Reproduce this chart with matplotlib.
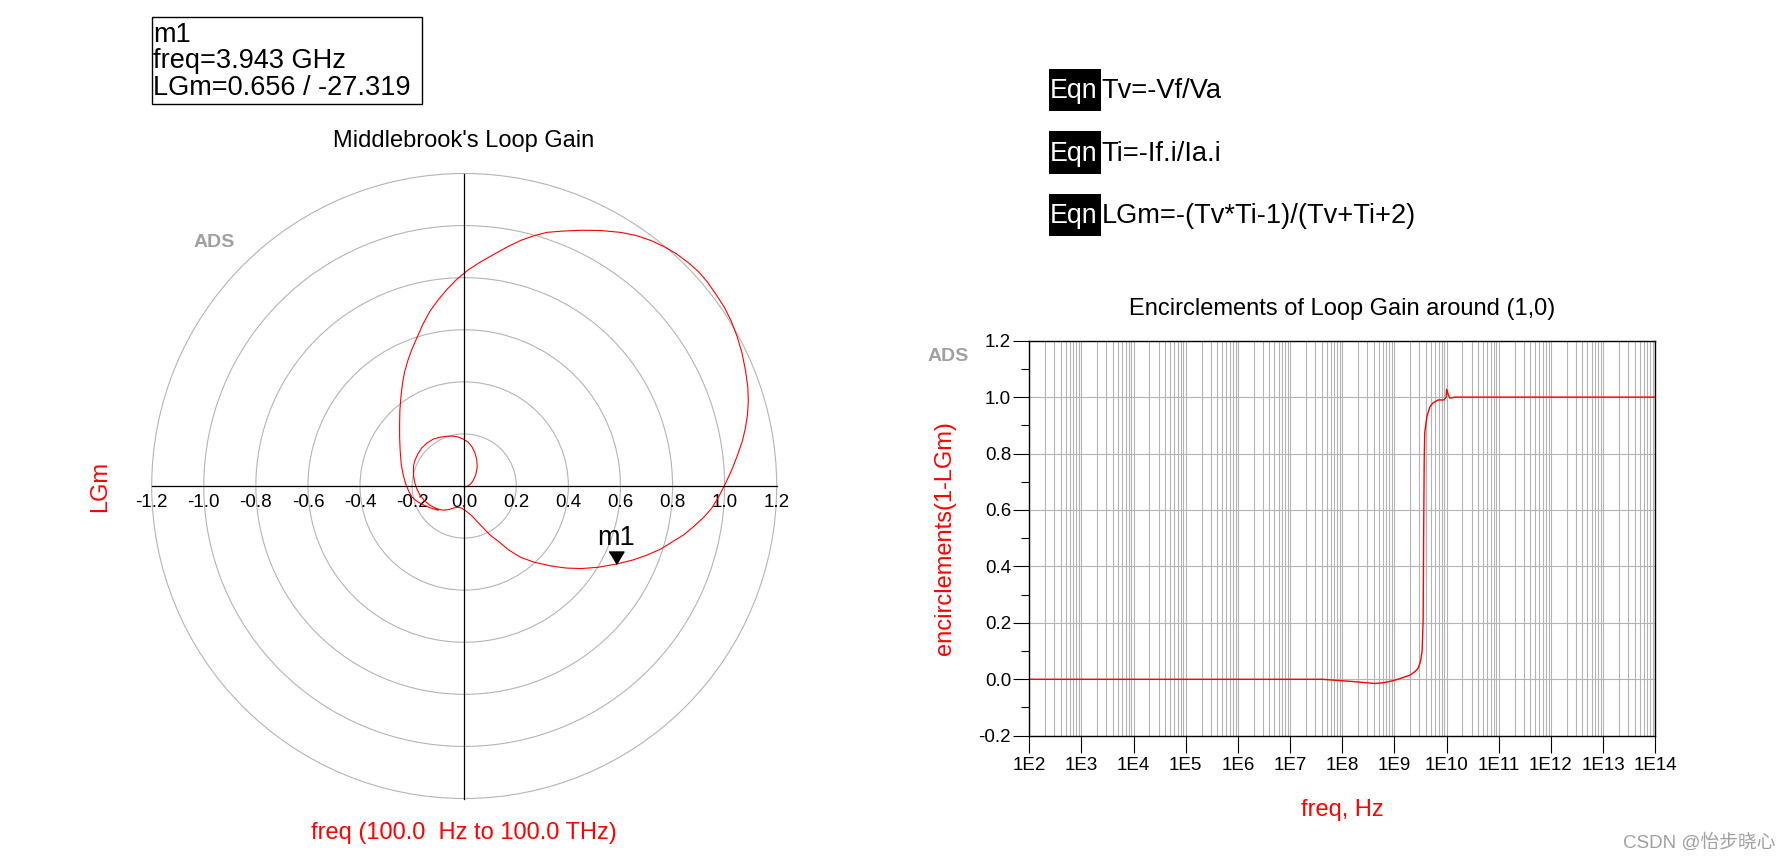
import matplotlib
matplotlib.use('Agg')
import matplotlib.pyplot as plt
import numpy as np
from matplotlib.patches import Circle, Rectangle
from matplotlib.ticker import FixedLocator, FuncFormatter, MultipleLocator, LogLocator, NullFormatter

W, H = 1788, 861

lgm_re = [0.000, 0.012, 0.025, 0.035, 0.045, 0.050, 0.048, 0.041, 0.030, 0.016,
          -0.003, -0.023, -0.045, -0.067, -0.094, -0.119, -0.143, -0.163, -0.178, -0.189,
          -0.194, -0.195, -0.194, -0.189, -0.181, -0.170, -0.152, -0.131, -0.106, -0.080,
          -0.057, -0.035, -0.020, -0.010, 0.000, 0.008,
          0.030, 0.050, 0.075, 0.100, 0.133, 0.170, 0.217, 0.270, 0.333, 0.390,
          0.450, 0.515, 0.583, 0.645, 0.700, 0.755, 0.800, 0.845, 0.883, 0.920,
          0.950, 0.978, 1.003, 1.028, 1.050, 1.068, 1.080, 1.088, 1.091, 1.089,
          1.080, 1.066, 1.048, 1.025, 0.998, 0.966, 0.935, 0.900, 0.860, 0.816,
          0.768, 0.716, 0.660, 0.600, 0.525, 0.450, 0.380, 0.317, 0.265, 0.217,
          0.165, 0.117, 0.065, 0.017, -0.027, -0.067, -0.102, -0.133, -0.160, -0.183,
          -0.202, -0.217, -0.229, -0.237, -0.243, -0.247, -0.248, -0.248, -0.246, -0.242,
          -0.235, -0.225, -0.213, -0.200, -0.180, -0.158, -0.130, -0.100]
lgm_im = [-0.005, -0.001, 0.008, 0.022, 0.045, 0.073, 0.102, 0.128, 0.150, 0.168,
          0.180, 0.188, 0.192, 0.191, 0.187, 0.180, 0.165, 0.146, 0.123, 0.099,
          0.080, 0.061, 0.035, 0.010, -0.013, -0.035, -0.057, -0.074, -0.087, -0.093,
          -0.090, -0.083, -0.082, -0.085, -0.091, -0.097,
          -0.115, -0.137, -0.163, -0.189, -0.214, -0.245, -0.274, -0.293, -0.307, -0.315,
          -0.317, -0.312, -0.300, -0.285, -0.266, -0.242, -0.214, -0.186, -0.154, -0.120,
          -0.086, -0.040, 0.009, 0.063, 0.120, 0.172, 0.223, 0.275, 0.326, 0.380,
          0.445, 0.514, 0.574, 0.634, 0.688, 0.737, 0.782, 0.823, 0.858, 0.891,
          0.919, 0.943, 0.962, 0.974, 0.981, 0.982, 0.979, 0.974, 0.960, 0.943,
          0.918, 0.891, 0.862, 0.831, 0.795, 0.754, 0.712, 0.669, 0.618, 0.566,
          0.522, 0.480, 0.437, 0.394, 0.342, 0.291, 0.240, 0.189, 0.137, 0.086,
          0.045, 0.009, -0.020, -0.043, -0.060, -0.072, -0.084, -0.093]

# marker m1
m1_freq = '3.943 GHz'
m1_mag = 0.656
m1_ang = -27.319

polar_ticks = [-1.2, -1.0, -0.8, -0.6, -0.4, -0.2, 0.0, 0.2, 0.4, 0.6, 0.8, 1.0, 1.2]
polar_rings = [0.2, 0.4, 0.6, 0.8, 1.0, 1.2]

# encirclements(1-LGm) vs freq
enc_freq = [1e2, 4e7, 8e7, 1.6e8, 3.2e8, 4.2e8, 6.3e8, 8.9e8, 1.26e9, 2.0e9,
            2.5e9, 2.82e9, 3.16e9, 3.39e9, 3.55e9, 3.63e9, 3.72e9, 3.8e9, 4.17e9, 4.79e9,
            5.5e9, 6.9e9, 8.9e9, 9.77e9, 1.0e10, 1.07e10, 1.15e10, 1.26e10, 1.41e10, 1e14]
enc_val = [0.0, 0.0, -0.004, -0.008, -0.013, -0.015, -0.012, -0.006, 0.002, 0.015,
           0.028, 0.038, 0.063, 0.10, 0.215, 0.53, 0.78, 0.873, 0.93, 0.966,
           0.98, 0.99, 0.99, 1.0, 1.028, 1.01, 0.997, 0.997, 1.0, 1.0]
decades = [2, 3, 4, 5, 6, 7, 8, 9, 10, 11, 12, 13, 14]

equations = ['Tv=-Vf/Va', 'Ti=-If.i/Ia.i', 'LGm=-(Tv*Ti-1)/(Tv+Ti+2)']

plt.rcParams['font.family'] = ['Liberation Sans', 'DejaVu Sans']
plt.rcParams['axes.unicode_minus'] = False


def fx(px):
    return px / W


def fy(py):
    return 1 - py / H


fig = plt.figure(figsize=(W / 100, H / 100), dpi=100)

# ---- polar (Nyquist) plot ----
axp = fig.add_axes([fx(151.7), fy(798.5), 625 / W, 625 / H])
axp.set_xlim(-1.2, 1.2)
axp.set_ylim(-1.2, 1.2)
for r in polar_rings:
    axp.add_patch(Circle((0, 0), r, fill=False, ec='#b4b4b4', lw=0.8, clip_on=False))
axp.plot(lgm_re, lgm_im, color='red', lw=0.8, clip_on=False)
for s in ['top', 'right']:
    axp.spines[s].set_visible(False)
for s in ['left', 'bottom']:
    axp.spines[s].set_position(('data', 0))
    axp.spines[s].set_linewidth(0.9)
axp.set_xticks(polar_ticks)
axp.set_xticklabels([f'{t:.1f}' for t in polar_ticks])
axp.set_yticks([])
axp.tick_params(axis='x', length=0, pad=6, labelsize=13.5)
axp.patch.set_alpha(0)

m1x = m1_mag * np.cos(np.radians(m1_ang))
m1y = m1_mag * np.sin(np.radians(m1_ang))
axp.plot([m1x], [m1y], marker=[(-0.6, 1.0), (0.6, 1.0), (0.0, 0.0)], ms=18, color='black', clip_on=False)
axp.annotate('m1', (m1x, m1y), xytext=(0, 14), textcoords='offset points',
             ha='center', va='baseline', fontsize=19.5)

fig.text(fx(464), fy(147.3), "Middlebrook's Loop Gain", ha='center', va='baseline', fontsize=17)
fig.text(fx(464), fy(839), 'freq (100.0  Hz to 100.0 THz)', ha='center', va='baseline',
         fontsize=17, color='red')
fig.text(fx(100), fy(486), 'LGm', rotation=90, ha='center', va='center', fontsize=17, color='red')
fig.text(fx(214.5), fy(242.6), 'ADS', ha='center', va='center', fontsize=14, weight='bold',
         color='#a0a0a0')

# marker readout box
fig.add_artist(Rectangle((fx(151.7), fy(104)), 270 / W, 86.7 / H, transform=fig.transFigure,
                         fill=False, ec='black', lw=1))
m1_lines = ['m1', f'freq={m1_freq}', f'LGm={m1_mag:.3f} / {m1_ang:.3f}']
for i, line in enumerate(m1_lines):
    fig.text(fx(153), fy(41.7 + i * 26.7), line, va='baseline', fontsize=19.5)

# equations
for i, eq in enumerate(equations):
    top = 69 + i * 62.5
    fig.add_artist(Rectangle((fx(1049), fy(top + 42)), 52 / W, 42 / H, transform=fig.transFigure,
                             fc='black', ec='none'))
    fig.text(fx(1050), fy(top + 29.3), 'Eqn', color='white', va='baseline', fontsize=19.3)
    fig.text(fx(1101.7), fy(top + 29.3), eq, va='baseline', fontsize=19.6)

# ---- encirclements plot ----
axe = fig.add_axes([fx(1029.3), fy(735.7), 626 / W, 395 / H])
axe.semilogx(enc_freq, enc_val, color='red', lw=1)
axe.set_xlim(1e2, 1e14)
axe.set_ylim(-0.2, 1.2)
axe.xaxis.set_major_locator(FixedLocator([10.0 ** d for d in decades]))
axe.xaxis.set_major_formatter(FuncFormatter(lambda v, _: f'1E{int(round(np.log10(v)))}'))
axe.xaxis.set_minor_locator(LogLocator(base=10, subs=range(2, 10), numticks=100))
axe.xaxis.set_minor_formatter(NullFormatter())
axe.yaxis.set_major_locator(MultipleLocator(0.2))
axe.yaxis.set_minor_locator(MultipleLocator(0.1))
axe.yaxis.set_major_formatter(FuncFormatter(lambda v, _: f'{round(v, 1) + 0.0:.1f}'))
axe.grid(which='major', color='#b4b4b4', lw=0.8)
axe.grid(which='minor', axis='x', color='#b4b4b4', lw=0.8)
axe.set_axisbelow(True)
axe.tick_params(axis='x', which='major', length=12.2, width=0.8, pad=3, labelsize=13.5)
axe.tick_params(axis='x', which='minor', length=0)
axe.tick_params(axis='y', which='major', length=11.5, width=0.8, pad=1.5, labelsize=13.5)
axe.tick_params(axis='y', which='minor', length=5.8, width=0.8)
for s in axe.spines.values():
    s.set_linewidth(1)

fig.text(fx(1342), fy(315), 'Encirclements of Loop Gain around (1,0)', ha='center', va='baseline',
         fontsize=17)
fig.text(fx(944.7), fy(538), 'encirclements(1-LGm)', rotation=90, ha='center', va='center',
         fontsize=17, color='red')
fig.text(fx(1342), fy(815.7), 'freq, Hz', ha='center', va='baseline', fontsize=17, color='red')
fig.text(fx(948), fy(357), 'ADS', ha='center', va='center', fontsize=14, weight='bold',
         color='#a0a0a0')

fig.text(fx(1623), fy(848), 'CSDN @怡步晓心', ha='left', va='baseline', fontsize=13.5,
         color='#a0a0a0', family=['Liberation Sans', 'Noto Sans CJK SC'])

fig.savefig('out.png', dpi=100)
